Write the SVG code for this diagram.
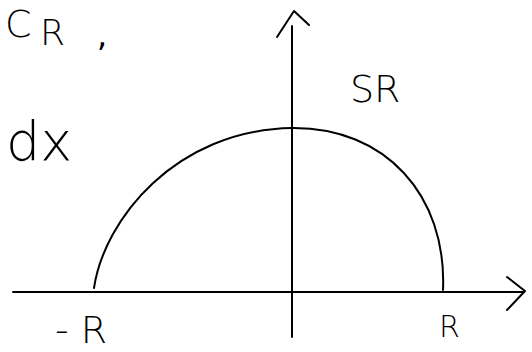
<svg xmlns="http://www.w3.org/2000/svg" width="532" height="352" viewBox="0 0 532 352">
<style>
.ln{fill:none;stroke:#000;stroke-width:2;stroke-linecap:round;stroke-linejoin:round}
.t{font-family:"DejaVu Sans","Liberation Sans",sans-serif;font-weight:300;fill:#000}
.cm{font-weight:normal}
</style>
<rect width="532" height="352" fill="#fff"/>
<g id="axes">
<path class="ln" d="M13,292 L524,292"/>
<path class="ln" d="M507,277 L525,291 L507,310"/>
<path class="ln" d="M292,26 L292,337"/>
<path class="ln" d="M277,37 L294,11 L309,25"/>
</g>
<g id="arc">
<path class="ln" d="M94,288 C 104,220 175,130 292,128 C 385,127 447,195 443,290"/>
</g>
<g id="labels">
<text class="t" x="5" y="37" font-size="38">C</text>
<text class="t" x="40" y="45" font-size="36">R</text>
<text class="t cm" x="97" y="46" font-size="32">,</text>
<text class="t" x="6" y="160" font-size="54">dx</text>
<text class="t" x="350" y="102" font-size="38">SR</text>
<text class="t" x="55" y="343" font-size="38">- R</text>
<text class="t" x="439" y="337" font-size="30">R</text>
</g>
</svg>
